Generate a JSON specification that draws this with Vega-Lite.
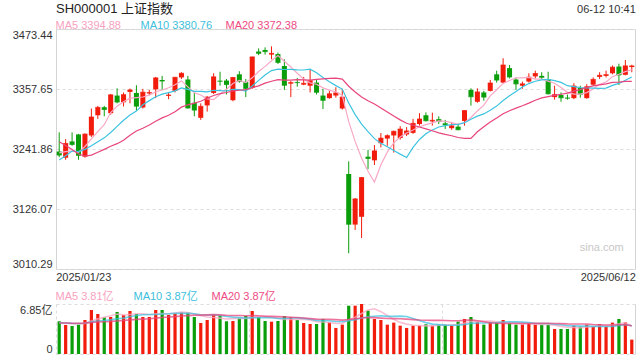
{
  "$schema": "https://vega.github.io/schema/vega-lite/v6.json",
  "background": "white",
  "padding": {"left": 11, "top": 2, "right": 5, "bottom": 4},
  "config": {
    "font": "Liberation Sans",
    "title": {"font": "Liberation Sans, Noto Sans CJK SC", "fontWeight": "normal", "color": "#333333"},
    "axis": {"labelFont": "Liberation Sans, Noto Sans CJK SC", "labelFontSize": 11, "labelColor": "#333333", "ticks": false, "domain": false, "title": null},
    "legend": {"orient": "none", "direction": "horizontal", "title": null, "symbolType": "circle", "symbolSize": 0.01, "symbolOpacity": 0, "symbolStrokeWidth": 0, "labelOffset": 0, "gridAlign": "all", "columnPadding": 2, "padding": 0, "labelFontSize": 11, "labelFont": "Liberation Sans, Noto Sans CJK SC", "labelLimit": 0}
  },
  "title": {"text": "06-12 10:41", "anchor": "end", "fontSize": 11, "offset": -12, "color": "#333333"},
  "datasets": {
    "k": [
      {"d":"2025/01/23","o":3237.0,"h":3274.0,"l":3226.0,"c":3230.16,"v":4.48,"m5":3234.52,"m10":3220.60,"m20":3255.77,"v5":4.29,"v10":4.26,"v20":4.25},
      {"d":"2025/01/24","o":3225.0,"h":3261.0,"l":3221.0,"c":3252.63,"v":3.98,"m5":3236.68,"m10":3229.01,"m20":3248.50,"v5":4.24,"v10":4.24,"v20":4.24},
      {"d":"2025/01/27","o":3256.5,"h":3274.0,"l":3248.0,"c":3250.60,"v":3.84,"m5":3237.93,"m10":3237.99,"m20":3241.02,"v5":4.16,"v10":4.20,"v20":4.22},
      {"d":"2025/02/05","o":3270.0,"h":3271.0,"l":3221.0,"c":3229.49,"v":4.02,"m5":3235.30,"m10":3236.85,"m20":3232.13,"v5":4.11,"v10":4.18,"v20":4.21},
      {"d":"2025/02/06","o":3227.0,"h":3272.0,"l":3225.0,"c":3270.66,"v":4.66,"m5":3246.71,"m10":3241.20,"m20":3228.07,"v5":4.20,"v10":4.22,"v20":4.23},
      {"d":"2025/02/07","o":3268.0,"h":3320.0,"l":3265.0,"c":3303.67,"v":6.03,"m5":3261.41,"m10":3247.97,"m20":3230.13,"v5":4.51,"v10":4.40,"v20":4.32},
      {"d":"2025/02/10","o":3307.0,"h":3325.0,"l":3300.0,"c":3322.17,"v":5.48,"m5":3275.32,"m10":3256.00,"m20":3235.67,"v5":4.81,"v10":4.52,"v20":4.38},
      {"d":"2025/02/11","o":3322.5,"h":3325.0,"l":3305.0,"c":3318.06,"v":5.03,"m5":3288.81,"m10":3263.37,"m20":3241.22,"v5":5.04,"v10":4.60,"v20":4.42},
      {"d":"2025/02/12","o":3311.0,"h":3348.0,"l":3308.0,"c":3346.39,"v":5.07,"m5":3312.19,"m10":3273.75,"m20":3247.06,"v5":5.25,"v10":4.68,"v20":4.46},
      {"d":"2025/02/13","o":3345.0,"h":3359.0,"l":3330.0,"c":3332.48,"v":5.76,"m5":3324.55,"m10":3285.63,"m20":3252.18,"v5":5.47,"v10":4.84,"v20":4.54},
      {"d":"2025/02/14","o":3332.0,"h":3351.0,"l":3324.0,"c":3346.72,"v":5.35,"m5":3333.16,"m10":3297.29,"m20":3258.94,"v5":5.34,"v10":4.92,"v20":4.59},
      {"d":"2025/02/17","o":3352.0,"h":3358.5,"l":3330.0,"c":3355.83,"v":5.89,"m5":3339.90,"m10":3307.61,"m20":3268.31,"v5":5.42,"v10":5.11,"v20":4.68},
      {"d":"2025/02/18","o":3350.0,"h":3365.0,"l":3316.0,"c":3324.49,"v":5.48,"m5":3341.18,"m10":3315.00,"m20":3276.49,"v5":5.51,"v10":5.28,"v20":4.74},
      {"d":"2025/02/19","o":3322.0,"h":3358.0,"l":3320.0,"c":3351.54,"v":5.07,"m5":3342.21,"m10":3327.20,"m20":3282.02,"v5":5.51,"v10":5.38,"v20":4.78},
      {"d":"2025/02/20","o":3349.0,"h":3356.0,"l":3346.0,"c":3350.78,"v":5.07,"m5":3345.87,"m10":3335.21,"m20":3288.21,"v5":5.37,"v10":5.42,"v20":4.82},
      {"d":"2025/02/21","o":3357.0,"h":3381.0,"l":3340.0,"c":3379.11,"v":6.03,"m5":3352.35,"m10":3342.76,"m20":3295.36,"v5":5.51,"v10":5.42,"v20":4.91},
      {"d":"2025/02/24","o":3375.0,"h":3383.0,"l":3356.0,"c":3373.03,"v":6.03,"m5":3355.79,"m10":3347.84,"m20":3301.92,"v5":5.54,"v10":5.48,"v20":5.00},
      {"d":"2025/02/25","o":3344.5,"h":3351.0,"l":3338.0,"c":3346.04,"v":5.35,"m5":3360.10,"m10":3350.64,"m20":3307.00,"v5":5.51,"v10":5.51,"v20":5.06},
      {"d":"2025/02/26","o":3354.0,"h":3381.0,"l":3351.0,"c":3380.21,"v":5.57,"m5":3365.83,"m10":3354.02,"m20":3313.88,"v5":5.61,"v10":5.56,"v20":5.12},
      {"d":"2025/02/27","o":3380.0,"h":3390.0,"l":3377.0,"c":3388.06,"v":5.71,"m5":3373.29,"m10":3359.58,"m20":3322.61,"v5":5.74,"v10":5.56,"v20":5.20},
      {"d":"2025/02/28","o":3376.0,"h":3383.0,"l":3320.0,"c":3320.90,"v":5.67,"m5":3361.65,"m10":3357.00,"m20":3327.14,"v5":5.67,"v10":5.59,"v20":5.26},
      {"d":"2025/03/03","o":3331.0,"h":3350.0,"l":3305.0,"c":3316.93,"v":5.07,"m5":3350.43,"m10":3353.11,"m20":3330.36,"v5":5.47,"v10":5.51,"v20":5.31},
      {"d":"2025/03/04","o":3302.0,"h":3330.0,"l":3298.0,"c":3324.21,"v":4.25,"m5":3346.06,"m10":3353.08,"m20":3334.04,"v5":5.25,"v10":5.38,"v20":5.33},
      {"d":"2025/03/05","o":3326.0,"h":3344.0,"l":3314.0,"c":3341.96,"v":4.66,"m5":3338.41,"m10":3352.12,"m20":3339.66,"v5":5.07,"v10":5.34,"v20":5.36},
      {"d":"2025/03/06","o":3350.0,"h":3388.0,"l":3348.0,"c":3381.10,"v":5.39,"m5":3337.02,"m10":3355.16,"m20":3345.18,"v5":5.01,"v10":5.37,"v20":5.40},
      {"d":"2025/03/07","o":3373.5,"h":3391.0,"l":3364.0,"c":3372.55,"v":5.21,"m5":3347.35,"m10":3354.50,"m20":3348.63,"v5":4.92,"v10":5.29,"v20":5.36},
      {"d":"2025/03/10","o":3374.0,"h":3377.0,"l":3347.0,"c":3366.16,"v":4.48,"m5":3357.20,"m10":3353.81,"m20":3350.83,"v5":4.80,"v10":5.14,"v20":5.31},
      {"d":"2025/03/11","o":3336.0,"h":3381.0,"l":3334.0,"c":3379.83,"v":4.52,"m5":3368.32,"m10":3357.19,"m20":3353.92,"v5":4.85,"v10":5.05,"v20":5.28},
      {"d":"2025/03/12","o":3386.0,"h":3392.0,"l":3370.0,"c":3371.92,"v":4.89,"m5":3374.31,"m10":3356.36,"m20":3355.19,"v5":4.90,"v10":4.99,"v20":5.27},
      {"d":"2025/03/13","o":3371.0,"h":3377.0,"l":3342.0,"c":3358.73,"v":5.21,"m5":3369.84,"m10":3353.43,"m20":3356.51,"v5":4.86,"v10":4.94,"v20":5.25},
      {"d":"2025/03/14","o":3360.0,"h":3420.0,"l":3358.0,"c":3419.56,"v":5.89,"m5":3379.24,"m10":3363.30,"m20":3360.15,"v5":5.00,"v10":4.96,"v20":5.27},
      {"d":"2025/03/17","o":3430.0,"h":3436.0,"l":3423.0,"c":3426.43,"v":5.07,"m5":3391.29,"m10":3374.25,"m20":3363.68,"v5":5.12,"v10":4.96,"v20":5.23},
      {"d":"2025/03/18","o":3433.0,"h":3438.0,"l":3424.0,"c":3429.76,"v":4.52,"m5":3401.28,"m10":3384.80,"m20":3368.94,"v5":5.12,"v10":4.98,"v20":5.18},
      {"d":"2025/03/19","o":3424.0,"h":3440.0,"l":3415.0,"c":3426.43,"v":4.43,"m5":3412.18,"m10":3393.25,"m20":3372.69,"v5":5.02,"v10":4.96,"v20":5.15},
      {"d":"2025/03/20","o":3425.0,"h":3428.0,"l":3406.0,"c":3408.95,"v":4.52,"m5":3422.23,"m10":3396.03,"m20":3375.59,"v5":4.89,"v10":4.87,"v20":5.12},
      {"d":"2025/03/21","o":3402.0,"h":3415.0,"l":3356.0,"c":3364.83,"v":5.21,"m5":3411.28,"m10":3395.26,"m20":3374.88,"v5":4.75,"v10":4.87,"v20":5.08},
      {"d":"2025/03/24","o":3368.0,"h":3373.0,"l":3342.0,"c":3370.03,"v":5.07,"m5":3400.00,"m10":3395.65,"m20":3374.73,"v5":4.75,"v10":4.93,"v20":5.04},
      {"d":"2025/03/25","o":3371.0,"h":3379.0,"l":3362.0,"c":3369.98,"v":4.66,"m5":3388.04,"m10":3394.66,"m20":3375.93,"v5":4.78,"v10":4.95,"v20":5.00},
      {"d":"2025/03/26","o":3366.0,"h":3381.0,"l":3365.0,"c":3368.70,"v":4.25,"m5":3376.50,"m10":3394.34,"m20":3375.35,"v5":4.74,"v10":4.88,"v20":4.93},
      {"d":"2025/03/27","o":3364.0,"h":3395.0,"l":3351.0,"c":3373.75,"v":4.11,"m5":3369.46,"m10":3395.84,"m20":3374.64,"v5":4.66,"v10":4.77,"v20":4.85},
      {"d":"2025/03/28","o":3370.0,"h":3375.0,"l":3347.0,"c":3351.31,"v":4.11,"m5":3366.75,"m10":3389.02,"m20":3376.16,"v5":4.44,"v10":4.60,"v20":4.78},
      {"d":"2025/03/31","o":3345.0,"h":3358.0,"l":3319.0,"c":3335.75,"v":4.80,"m5":3359.90,"m10":3379.95,"m20":3377.10,"v5":4.39,"v10":4.57,"v20":4.76},
      {"d":"2025/04/01","o":3340.0,"h":3354.0,"l":3339.0,"c":3348.44,"v":4.34,"m5":3355.59,"m10":3371.82,"m20":3378.31,"v5":4.32,"v10":4.55,"v20":4.77},
      {"d":"2025/04/02","o":3345.0,"h":3361.0,"l":3341.0,"c":3350.13,"v":3.57,"m5":3351.88,"m10":3364.19,"m20":3378.72,"v5":4.19,"v10":4.46,"v20":4.71},
      {"d":"2025/04/03","o":3320.0,"h":3358.0,"l":3318.0,"c":3342.01,"v":4.02,"m5":3345.53,"m10":3357.49,"m20":3376.76,"v5":4.17,"v10":4.41,"v20":4.64},
      {"d":"2025/04/07","o":3193.6,"h":3218.0,"l":3040.7,"c":3096.58,"v":6.62,"m5":3294.58,"m10":3330.67,"m20":3362.96,"v5":4.67,"v10":4.56,"v20":4.72},
      {"d":"2025/04/08","o":3096.0,"h":3147.0,"l":3085.6,"c":3145.55,"v":6.62,"m5":3256.54,"m10":3308.22,"m20":3351.93,"v5":5.03,"v10":4.71,"v20":4.82},
      {"d":"2025/04/09","o":3111.0,"h":3188.0,"l":3070.0,"c":3186.81,"v":6.85,"m5":3224.22,"m10":3289.90,"m20":3342.28,"v5":5.55,"v10":4.94,"v20":4.94},
      {"d":"2025/04/10","o":3227.0,"h":3240.0,"l":3203.0,"c":3223.64,"v":5.94,"m5":3198.92,"m10":3275.40,"m20":3334.87,"v5":6.04,"v10":5.11,"v20":5.00},
      {"d":"2025/04/11","o":3220.0,"h":3249.5,"l":3211.0,"c":3238.23,"v":4.80,"m5":3178.16,"m10":3261.85,"m20":3328.84,"v5":6.19,"v10":5.18,"v20":4.98},
      {"d":"2025/04/14","o":3253.0,"h":3272.7,"l":3245.0,"c":3262.81,"v":4.66,"m5":3211.41,"m10":3253.00,"m20":3321.01,"v5":5.80,"v10":5.24,"v20":4.92},
      {"d":"2025/04/15","o":3262.0,"h":3270.0,"l":3248.0,"c":3267.66,"v":4.02,"m5":3235.83,"m10":3246.19,"m20":3313.07,"v5":5.28,"v10":5.16,"v20":4.86},
      {"d":"2025/04/16","o":3268.0,"h":3277.5,"l":3235.0,"c":3276.00,"v":4.30,"m5":3253.67,"m10":3238.94,"m20":3305.38,"v5":4.74,"v10":5.15,"v20":4.85},
      {"d":"2025/04/17","o":3263.0,"h":3286.0,"l":3260.0,"c":3280.34,"v":3.88,"m5":3265.01,"m10":3231.96,"m20":3298.08,"v5":4.33,"v10":5.19,"v20":4.82},
      {"d":"2025/04/18","o":3270.0,"h":3284.0,"l":3267.0,"c":3276.73,"v":3.57,"m5":3272.71,"m10":3225.44,"m20":3291.46,"v5":4.09,"v10":5.14,"v20":4.78},
      {"d":"2025/04/21","o":3273.0,"h":3300.0,"l":3271.0,"c":3291.43,"v":3.88,"m5":3278.43,"m10":3244.92,"m20":3287.79,"v5":3.93,"v10":4.87,"v20":4.71},
      {"d":"2025/04/22","o":3290.0,"h":3311.0,"l":3287.0,"c":3299.76,"v":3.88,"m5":3284.85,"m10":3260.34,"m20":3284.28,"v5":3.90,"v10":4.59,"v20":4.65},
      {"d":"2025/04/23","o":3307.0,"h":3312.5,"l":3295.0,"c":3296.36,"v":4.07,"m5":3288.92,"m10":3271.30,"m20":3280.60,"v5":3.86,"v10":4.30,"v20":4.62},
      {"d":"2025/04/24","o":3295.0,"h":3312.0,"l":3287.0,"c":3297.29,"v":3.88,"m5":3292.31,"m10":3278.66,"m20":3277.03,"v5":3.86,"v10":4.09,"v20":4.60},
      {"d":"2025/04/25","o":3299.5,"h":3305.0,"l":3290.0,"c":3295.06,"v":4.02,"m5":3295.98,"m10":3284.34,"m20":3273.09,"v5":3.95,"v10":4.02,"v20":4.60},
      {"d":"2025/04/28","o":3291.5,"h":3298.0,"l":3280.5,"c":3288.41,"v":4.02,"m5":3295.38,"m10":3286.90,"m20":3269.95,"v5":3.97,"v10":3.95,"v20":4.59},
      {"d":"2025/04/29","o":3282.0,"h":3293.0,"l":3279.0,"c":3286.65,"v":3.88,"m5":3292.75,"m10":3288.80,"m20":3267.49,"v5":3.97,"v10":3.94,"v20":4.55},
      {"d":"2025/04/30","o":3285.0,"h":3291.0,"l":3278.0,"c":3279.03,"v":4.43,"m5":3289.29,"m10":3289.11,"m20":3264.02,"v5":4.05,"v10":3.95,"v20":4.55},
      {"d":"2025/05/06","o":3296.0,"h":3317.0,"l":3287.0,"c":3316.11,"v":4.80,"m5":3293.05,"m10":3292.68,"m20":3262.32,"v5":4.23,"v10":4.04,"v20":4.61},
      {"d":"2025/05/07","o":3356.0,"h":3359.0,"l":3325.5,"c":3342.67,"v":5.07,"m5":3302.57,"m10":3299.28,"m20":3262.36,"v5":4.44,"v10":4.19,"v20":4.67},
      {"d":"2025/05/08","o":3333.0,"h":3359.0,"l":3331.0,"c":3352.00,"v":4.34,"m5":3315.29,"m10":3305.33,"m20":3275.13,"v5":4.50,"v10":4.24,"v20":4.55},
      {"d":"2025/05/09","o":3351.0,"h":3354.0,"l":3335.0,"c":3342.00,"v":4.02,"m5":3326.36,"m10":3309.56,"m20":3284.95,"v5":4.53,"v10":4.25,"v20":4.42},
      {"d":"2025/05/12","o":3354.0,"h":3375.0,"l":3353.0,"c":3369.24,"v":4.34,"m5":3344.40,"m10":3316.85,"m20":3294.07,"v5":4.51,"v10":4.28,"v20":4.29},
      {"d":"2025/05/13","o":3386.0,"h":3393.0,"l":3370.0,"c":3374.87,"v":4.25,"m5":3356.16,"m10":3324.60,"m20":3301.63,"v5":4.40,"v10":4.32,"v20":4.21},
      {"d":"2025/05/14","o":3370.0,"h":3417.0,"l":3369.0,"c":3403.95,"v":4.66,"m5":3368.41,"m10":3335.49,"m20":3309.92,"v5":4.32,"v10":4.38,"v20":4.20},
      {"d":"2025/05/15","o":3398.0,"h":3404.0,"l":3378.0,"c":3380.82,"v":4.20,"m5":3374.18,"m10":3344.73,"m20":3315.82,"v5":4.29,"v10":4.40,"v20":4.18},
      {"d":"2025/05/16","o":3376.0,"h":3380.0,"l":3356.0,"c":3367.46,"v":4.02,"m5":3379.27,"m10":3352.82,"m20":3320.81,"v5":4.29,"v10":4.41,"v20":4.18},
      {"d":"2025/05/19","o":3364.0,"h":3372.0,"l":3358.0,"c":3367.58,"v":4.02,"m5":3378.94,"m10":3361.67,"m20":3325.39,"v5":4.23,"v10":4.37,"v20":4.16},
      {"d":"2025/05/20","o":3372.0,"h":3388.0,"l":3370.0,"c":3380.48,"v":4.20,"m5":3380.06,"m10":3368.11,"m20":3330.40,"v5":4.22,"v10":4.31,"v20":4.18},
      {"d":"2025/05/21","o":3382.0,"h":3393.0,"l":3378.0,"c":3387.57,"v":4.02,"m5":3376.78,"m10":3372.60,"m20":3335.94,"v5":4.09,"v10":4.21,"v20":4.20},
      {"d":"2025/05/22","o":3383.0,"h":3390.0,"l":3377.0,"c":3380.19,"v":4.02,"m5":3376.66,"m10":3375.42,"m20":3340.38,"v5":4.06,"v10":4.18,"v20":4.21},
      {"d":"2025/05/23","o":3377.0,"h":3391.0,"l":3347.0,"c":3348.37,"v":4.02,"m5":3372.84,"m10":3376.05,"m20":3342.81,"v5":4.06,"v10":4.18,"v20":4.21},
      {"d":"2025/05/26","o":3342.0,"h":3364.0,"l":3337.0,"c":3346.84,"v":3.43,"m5":3368.69,"m10":3373.81,"m20":3345.33,"v5":3.94,"v10":4.08,"v20":4.18},
      {"d":"2025/05/27","o":3346.0,"h":3351.0,"l":3333.0,"c":3340.69,"v":3.43,"m5":3360.73,"m10":3370.40,"m20":3347.50,"v5":3.78,"v10":4.00,"v20":4.16},
      {"d":"2025/05/28","o":3341.0,"h":3347.0,"l":3337.0,"c":3339.93,"v":3.43,"m5":3351.20,"m10":3363.99,"m20":3349.74,"v5":3.67,"v10":3.88,"v20":4.13},
      {"d":"2025/05/29","o":3340.0,"h":3369.0,"l":3338.0,"c":3363.45,"v":3.88,"m5":3347.86,"m10":3362.26,"m20":3353.50,"v5":3.64,"v10":3.85,"v20":4.12},
      {"d":"2025/05/30","o":3359.6,"h":3364.0,"l":3341.0,"c":3347.49,"v":3.75,"m5":3347.68,"m10":3360.26,"m20":3356.54,"v5":3.58,"v10":3.82,"v20":4.12},
      {"d":"2025/06/03","o":3340.0,"h":3367.0,"l":3339.0,"c":3361.98,"v":4.02,"m5":3350.71,"m10":3359.70,"m20":3360.68,"v5":3.70,"v10":3.82,"v20":4.10},
      {"d":"2025/06/04","o":3366.0,"h":3380.0,"l":3364.0,"c":3376.20,"v":3.75,"m5":3357.81,"m10":3359.27,"m20":3363.69,"v5":3.77,"v10":3.78,"v20":4.04},
      {"d":"2025/06/05","o":3381.0,"h":3390.0,"l":3377.0,"c":3384.10,"v":4.11,"m5":3366.64,"m10":3358.92,"m20":3365.76,"v5":3.90,"v10":3.78,"v20":4.00},
      {"d":"2025/06/06","o":3383.0,"h":3393.0,"l":3380.0,"c":3385.36,"v":3.75,"m5":3371.03,"m10":3359.44,"m20":3367.43,"v5":3.88,"v10":3.76,"v20":3.97},
      {"d":"2025/06/09","o":3388.0,"h":3403.0,"l":3386.0,"c":3399.77,"v":4.30,"m5":3381.48,"m10":3364.58,"m20":3370.32,"v5":3.99,"v10":3.79,"v20":3.98},
      {"d":"2025/06/10","o":3401.0,"h":3406.5,"l":3365.4,"c":3384.82,"v":4.80,"m5":3386.05,"m10":3368.38,"m20":3371.10,"v5":4.14,"v10":3.92,"v20":4.00},
      {"d":"2025/06/11","o":3385.0,"h":3413.6,"l":3384.0,"c":3402.32,"v":4.34,"m5":3391.27,"m10":3374.54,"m20":3372.47,"v5":4.26,"v10":4.01,"v20":4.01},
      {"d":"2025/06/12","o":3400.0,"h":3404.5,"l":3390.0,"c":3402.13,"v":1.97,"m5":3394.88,"m10":3380.76,"m20":3372.38,"v5":3.83,"v10":3.87,"v20":3.87}
    ],
    "wm": [{"t": "sina.com"}]
  },
  "data": {"name": "k"},
  "bounds": "flush",
  "spacing": 35,
  "resolve": {"scale": {"color": "independent", "x": "independent"}, "legend": {"color": "independent"}},
  "vconcat": [
    {
      "width": 579,
      "height": 240,
      "title": {"text": "SH000001 上证指数", "anchor": "start", "frame": "group", "fontSize": 13, "offset": 4, "color": "#222222"},
      "view": {"stroke": "#d4d4d4"},
      "encoding": {
        "x": {"field": "d", "type": "ordinal", "sort": null, "scale": {"type": "band", "paddingInner": 0, "paddingOuter": 0},
          "axis": {"values": ["2025/01/23", "2025/06/12"], "labelAngle": 0, "grid": false, "labelPadding": 2, "labelBound": false, "labelOverlap": false,
            "labelAlign": {"condition": {"test": "datum.value === '2025/01/23'", "value": "left"}, "value": "right"},
            "labelOffset": {"condition": {"test": "datum.value === '2025/01/23'", "value": -3}, "value": 4}}}
      },
      "layer": [
        {
          "mark": {"type": "rule", "strokeWidth": 1},
          "encoding": {
            "y": {"field": "l", "type": "quantitative", "scale": {"domain": [3010.29, 3473.44], "nice": false, "zero": false},
              "axis": {"values": [3010.29, 3126.07, 3241.86, 3357.65, 3473.44], "format": ".2f", "grid": true, "gridDash": [3, 3], "gridColor": "#dddddd", "labelPadding": 4,
                "labelBaseline": {"condition": [{"test": "datum.value > 3470", "value": "top"}, {"test": "datum.value < 3011", "value": "bottom"}], "value": "middle"}}},
            "y2": {"field": "h"},
            "color": {"condition": {"test": "datum.c >= datum.o", "value": "#f21c0c"}, "value": "#0b9e0b"}
          }
        },
        {
          "mark": {"type": "bar", "width": {"band": 0.78}},
          "encoding": {
            "y": {"field": "o", "type": "quantitative"},
            "y2": {"field": "c"},
            "color": {"condition": {"test": "datum.c >= datum.o", "value": "#f21c0c"}, "value": "#0b9e0b"}
          }
        },
        {
          "mark": {"type": "tick", "thickness": 1, "size": 5},
          "encoding": {
            "y": {"field": "c", "type": "quantitative"},
            "color": {"condition": {"test": "datum.c >= datum.o", "value": "#f21c0c"}, "value": "#0b9e0b"}
          }
        },
        {
          "transform": [{"fold": ["m5", "m10", "m20"], "as": ["key", "val"]}],
          "mark": {"type": "line", "strokeWidth": 1.2},
          "encoding": {
            "y": {"field": "val", "type": "quantitative"},
            "color": {"field": "key", "type": "nominal", "scale": {"domain": ["m5", "m10", "m20"], "range": ["#f8a8c6", "#3dc3e0", "#e8457e"]},
              "legend": {"legendX": -11.5, "legendY": -9,
                "labelExpr": "datum.value == 'm5' ? 'MA5 3394.88' : datum.value == 'm10' ? 'MA10 3380.76' : 'MA20 3372.38'",
                "labelColor": {"expr": "datum.value == 'm5' ? '#f7a1c0' : datum.value == 'm10' ? '#3cbfdc' : '#ee4a82'"}}}
          }
        },
        {
          "data": {"name": "wm"},
          "mark": {"type": "text", "align": "right", "baseline": "middle", "fontSize": 11, "color": "#c8c8c8", "dx": -8},
          "encoding": {"x": {"datum": "2025/06/12"}, "y": {"datum": 3051}, "text": {"field": "t"}}
        }
      ]
    },
    {
      "width": 579,
      "height": 50,
      "view": {"stroke": null},
      "resolve": {"axis": {"x": "independent"}},
      "layer": [
        {
          "mark": {"type": "bar", "width": {"band": 0.5}},
          "encoding": {
            "x": {"field": "d", "type": "ordinal", "sort": null, "scale": {"type": "band", "paddingInner": 0, "paddingOuter": 0},
              "axis": {"values": ["2025/01/23", "2025/03/14", "2025/04/28"], "bandPosition": 0, "grid": true, "gridDash": [3, 3], "gridColor": "#dddddd", "labels": false}},
            "y": {"field": "v", "type": "quantitative", "scale": {"domain": [0, 6.85], "nice": false},
              "axis": {"values": [0, 6.85], "grid": true, "gridDash": [3, 3], "gridColor": "#dddddd", "labelPadding": 4,
                "labelExpr": "datum.value == 0 ? '0' : '6.85亿'",
                "labelBaseline": {"condition": {"test": "datum.value > 6", "value": "top"}, "value": "bottom"}}},
            "color": {"condition": {"test": "datum.c >= datum.o", "value": "#f21c0c"}, "value": "#0b9e0b"}
          }
        },
        {
          "transform": [{"fold": ["v5", "v10", "v20"], "as": ["key", "val"]}],
          "mark": {"type": "line", "strokeWidth": 1.6, "opacity": 0.75},
          "encoding": {
            "x": {"field": "d", "type": "ordinal", "sort": null,
              "axis": {"orient": "top", "values": ["2025/06/12"], "bandPosition": 1, "grid": true, "gridColor": "#d4d4d4", "labels": false}},
            "y": {"field": "val", "type": "quantitative"},
            "color": {"field": "key", "type": "nominal", "scale": {"domain": ["v5", "v10", "v20"], "range": ["#f8a8c6", "#3dc3e0", "#e8457e"]},
              "legend": {"legendX": -11.5, "legendY": -13,
                "labelExpr": "datum.value == 'v5' ? 'MA5 3.81亿' : datum.value == 'v10' ? 'MA10 3.87亿' : 'MA20 3.87亿'",
                "labelColor": {"expr": "datum.value == 'v5' ? '#f7a1c0' : datum.value == 'v10' ? '#3cbfdc' : '#ee4a82'"}}}
          }
        }
      ]
    }
  ]
}
